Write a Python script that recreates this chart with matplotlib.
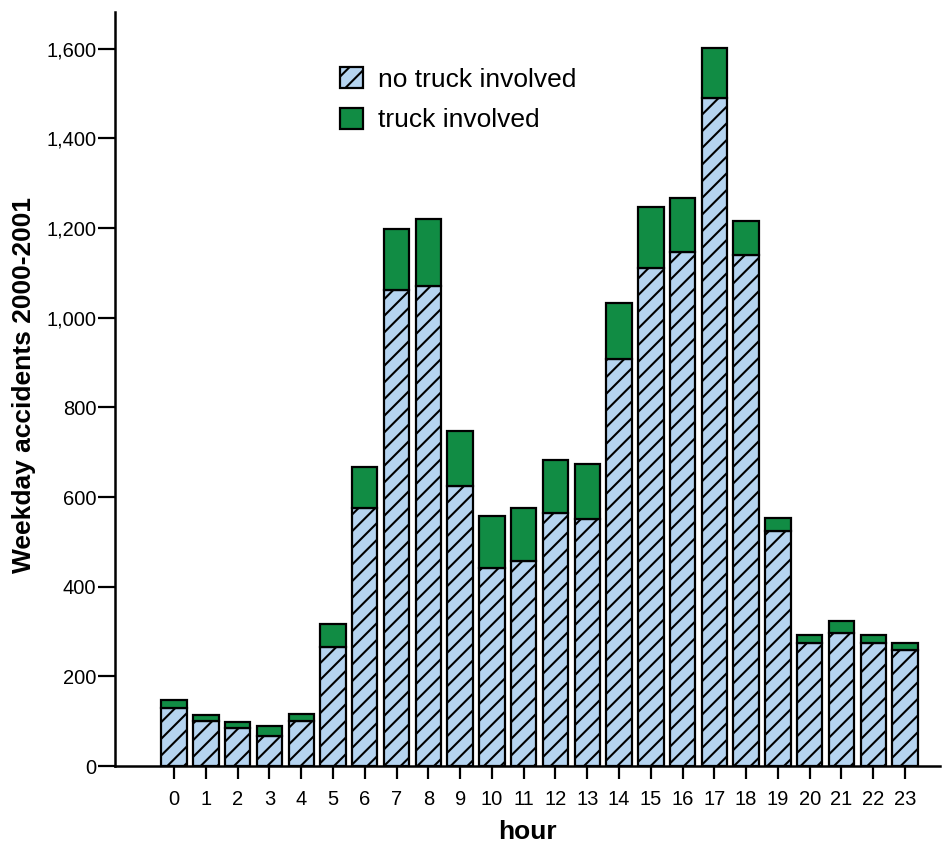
import matplotlib
matplotlib.use("Agg")
import matplotlib.pyplot as plt
from matplotlib.ticker import FuncFormatter
import numpy as np

plt.rcParams['font.family'] = ['Liberation Sans', 'DejaVu Sans']
plt.rcParams['hatch.linewidth'] = 1.5

hours = list(range(24))
no_truck = [130, 100, 85, 68, 100, 265, 576, 1062, 1070, 625, 442, 457, 565, 551,
            908, 1111, 1147, 1491, 1140, 524, 274, 296, 274, 258]
total = [148, 114, 99, 89, 116, 316, 667, 1198, 1220, 748, 558, 576, 683, 674,
         1033, 1248, 1268, 1602, 1216, 554, 293, 324, 293, 275]
truck = [t - n for t, n in zip(total, no_truck)]

fig = plt.figure(figsize=(9.53, 8.42), dpi=100)
ax = fig.add_axes([115/953, 1 - 766/842, 825/953, 754/842])

blue = '#b5d4f0'
green = '#118c44'
ax.bar(hours, no_truck, width=0.8, color=blue, edgecolor='black', linewidth=1.6,
       hatch='//', label='no truck involved')
ax.bar(hours, truck, bottom=no_truck, width=0.8, color=green, edgecolor='black',
       linewidth=1.6, label='truck involved')

ax.set_xlim(-1.86, 24.1)
ax.set_ylim(0, 1682)
ax.set_xticks(hours)
ax.set_yticks(np.arange(0, 1601, 200))
ax.yaxis.set_major_formatter(FuncFormatter(lambda v, p: f'{int(v):,}'))
ax.tick_params(axis='both', direction='out', width=1.6, labelsize=14.5)
ax.tick_params(axis='x', length=9.5, pad=8)
ax.tick_params(axis='y', length=12, pad=1.5)

for s in ['top', 'right']:
    ax.spines[s].set_visible(False)
for s in ['left', 'bottom']:
    ax.spines[s].set_linewidth(1.8)

ax.set_xlabel('hour', fontsize=19, fontweight='bold')
ax.set_ylabel('Weekday accidents 2000-2001', fontsize=19, fontweight='bold')
ax.xaxis.set_label_coords(0.5, -0.071)
ax.yaxis.set_label_coords(-0.096, 0.505)

ax.legend(loc='upper left', bbox_to_anchor=(0.273, 0.927), frameon=False, fontsize=19,
          borderpad=0, borderaxespad=0, handlelength=0.85, handleheight=0.85,
          handletextpad=0.6, labelspacing=0.6)

fig.savefig('out.png', dpi=100)
